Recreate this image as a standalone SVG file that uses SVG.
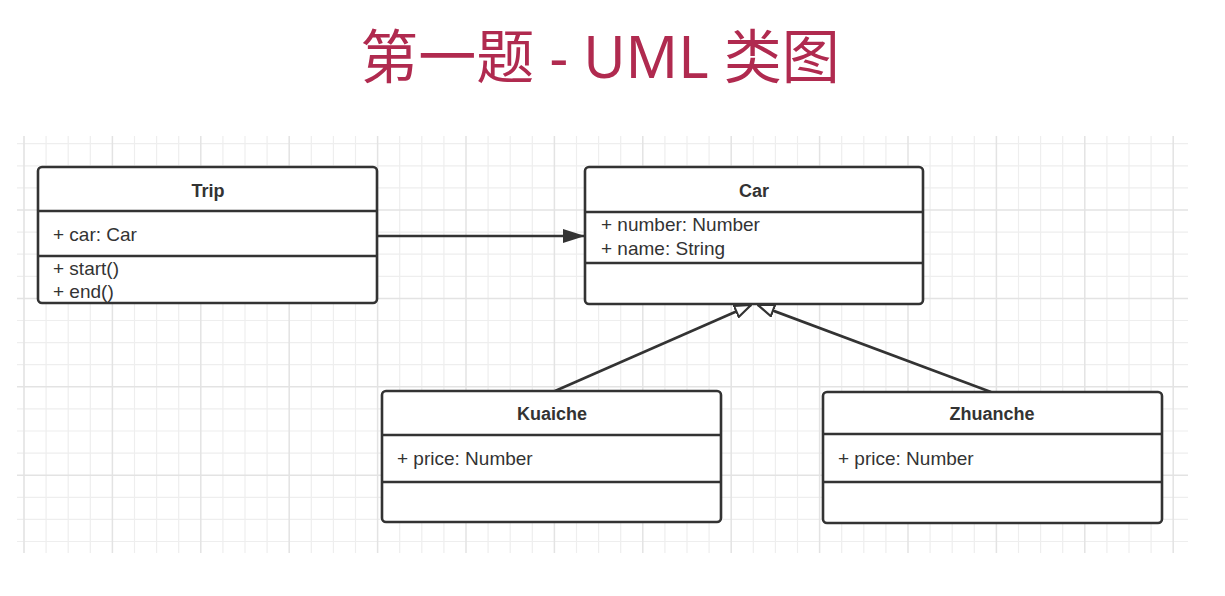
<svg xmlns="http://www.w3.org/2000/svg" width="1225" height="596" viewBox="0 0 1225 596">
<defs>
<style>
.grid-minor{stroke:#eeeeee;stroke-width:1.2;fill:none}
.grid-major{stroke:#e3e3e3;stroke-width:1.5;fill:none}
.box{fill:#ffffff;stroke:#333333;stroke-width:2.6}
.sep{stroke:#333333;stroke-width:2.6}
.hdr{font-family:"Liberation Sans",Arial,sans-serif;font-size:18px;font-weight:bold;fill:#333333;text-anchor:middle}
.mem{font-family:"Liberation Sans",Arial,sans-serif;font-size:19px;fill:#333333}
.edge{stroke:#333333;stroke-width:2.6;fill:none}
.title{font-family:"Noto Sans","Noto Sans CJK SC",sans-serif;font-size:58px;fill:#b02a4f;text-anchor:middle}
</style>
<marker id="filled" viewBox="0 0 22 14" refX="22" refY="7" markerWidth="22" markerHeight="14" markerUnits="userSpaceOnUse" orient="auto">
<path d="M0,0 L22,7 L0,14 Z" fill="#333333"/>
</marker>
<marker id="hollow" viewBox="0 0 18 14" refX="17" refY="7" markerWidth="18" markerHeight="14" markerUnits="userSpaceOnUse" orient="auto">
<path d="M1,1 L17,7 L1,13 Z" fill="#ffffff" stroke="#333333" stroke-width="2.2"/>
</marker>
</defs>
<rect width="1225" height="596" fill="#ffffff"/>
<g id="grid">
<path class="grid-minor" d="M24 136V553M46.1 136V553M68.2 136V553M90.3 136V553M134.5 136V553M156.6 136V553M178.7 136V553M222.9 136V553M245 136V553M267.1 136V553M311.3 136V553M333.4 136V553M355.5 136V553M399.7 136V553M421.8 136V553M443.9 136V553M488.1 136V553M510.2 136V553M532.3 136V553M576.5 136V553M598.6 136V553M620.7 136V553M664.9 136V553M687 136V553M709.1 136V553M753.3 136V553M775.4 136V553M797.5 136V553M841.7 136V553M863.8 136V553M885.9 136V553M930.1 136V553M952.2 136V553M974.3 136V553M1018.5 136V553M1040.6 136V553M1062.7 136V553M1106.9 136V553M1129 136V553M1151.1 136V553M17 143.7H1188M17 165.8H1188M17 187.9H1188M17 232.1H1188M17 254.2H1188M17 276.3H1188M17 320.5H1188M17 342.6H1188M17 364.7H1188M17 408.9H1188M17 431H1188M17 453.1H1188M17 497.3H1188M17 519.4H1188M17 541.5H1188"/>
<path class="grid-major" d="M24 136V553M112.4 136V553M200.8 136V553M289.2 136V553M377.6 136V553M466 136V553M554.4 136V553M642.8 136V553M731.2 136V553M819.6 136V553M908 136V553M996.4 136V553M1084.8 136V553M1173.2 136V553M17 210H1188M17 298.4H1188M17 386.8H1188M17 475.2H1188"/>
</g>
<text id="title" class="title" x="600" y="78">第一题 - UML 类图</text>
<g id="connectors">
<path class="edge" d="M377 236H585" marker-end="url(#filled)"/>
<path class="edge" d="M555 391L751 305" marker-end="url(#hollow)"/>
<path class="edge" d="M991 392L758 305" marker-end="url(#hollow)"/>
</g>
<g id="Trip">
<rect class="box" x="38" y="167" width="339" height="136" rx="4"/>
<line class="sep" x1="38" y1="211" x2="377" y2="211"/>
<line class="sep" x1="38" y1="256" x2="377" y2="256"/>
<text class="hdr" x="208" y="197">Trip</text>
<text class="mem" x="53" y="241">+ car: Car</text>
<text class="mem" x="53" y="275">+ start()</text>
<text class="mem" x="53" y="298">+ end()</text>
</g>
<g id="Car">
<rect class="box" x="585" y="167" width="338" height="137" rx="4"/>
<line class="sep" x1="585" y1="212" x2="923" y2="212"/>
<line class="sep" x1="585" y1="263" x2="923" y2="263"/>
<text class="hdr" x="754" y="197">Car</text>
<text class="mem" x="601" y="231">+ number: Number</text>
<text class="mem" x="601" y="255">+ name: String</text>
</g>
<g id="Kuaiche">
<rect class="box" x="382" y="391" width="339" height="131" rx="4"/>
<line class="sep" x1="382" y1="435" x2="721" y2="435"/>
<line class="sep" x1="382" y1="482" x2="721" y2="482"/>
<text class="hdr" x="552" y="420">Kuaiche</text>
<text class="mem" x="397" y="465">+ price: Number</text>
</g>
<g id="Zhuanche">
<rect class="box" x="823" y="392" width="339" height="131" rx="4"/>
<line class="sep" x1="823" y1="434" x2="1162" y2="434"/>
<line class="sep" x1="823" y1="482" x2="1162" y2="482"/>
<text class="hdr" x="992" y="420">Zhuanche</text>
<text class="mem" x="838" y="465">+ price: Number</text>
</g>
</svg>
